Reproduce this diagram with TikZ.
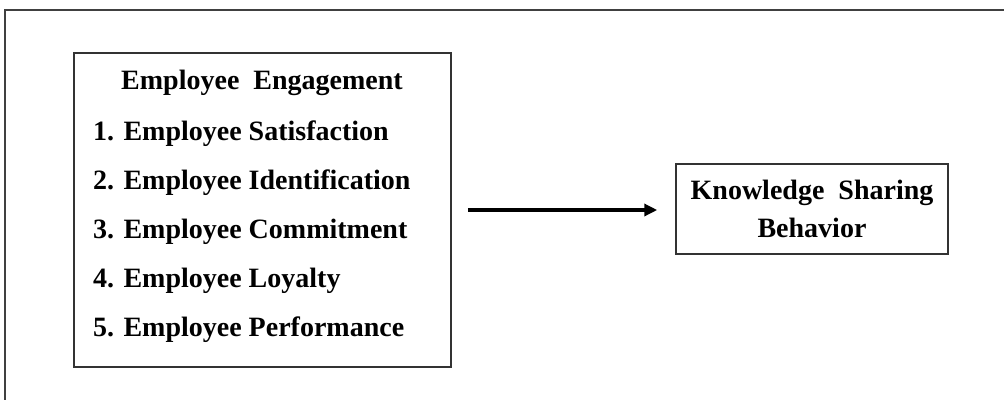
\documentclass[tikz,border=0pt]{standalone}
\usepackage{fontspec}
\setmainfont{Liberation Serif}
\usetikzlibrary{arrows.meta}
\begin{document}
\begin{tikzpicture}[x=1pt,y=1pt,
    box/.style={draw=black!80,line width=1.5pt,inner sep=0pt},
    txt/.style={font=\fontsize{28}{38}\selectfont\bfseries,inner sep=0pt}]
    \useasboundingbox (0,0) rectangle (1004,400);
    \draw[black!75,line width=2pt] (1004,390) -- (5,390) -- (5,0);
    % left box with the list
    \node[box,minimum width=377,minimum height=314] (eng) at (262.5,190) {};
    \node[txt] (head) at (262,317) {Employee\ \ Engagement};
    \foreach \i/\lab in {1/Employee Satisfaction,2/Employee Identification,3/Employee Commitment,4/Employee Loyalty,5/Employee Performance}
        \node[txt,anchor=west] (item\i) at (93,315-49*\i) {\i. \lab};
    % right box
    \node[box,minimum width=272,minimum height=90,align=center,txt] (ksb) at (812,191)
        {Knowledge\ \ Sharing\\Behavior};
    \draw[-{Triangle[length=13pt,width=12pt]},line width=4pt,shorten <=16pt,shorten >=18pt]
        (eng.east) -- (eng.east -| ksb.west);
\end{tikzpicture}
\end{document}
